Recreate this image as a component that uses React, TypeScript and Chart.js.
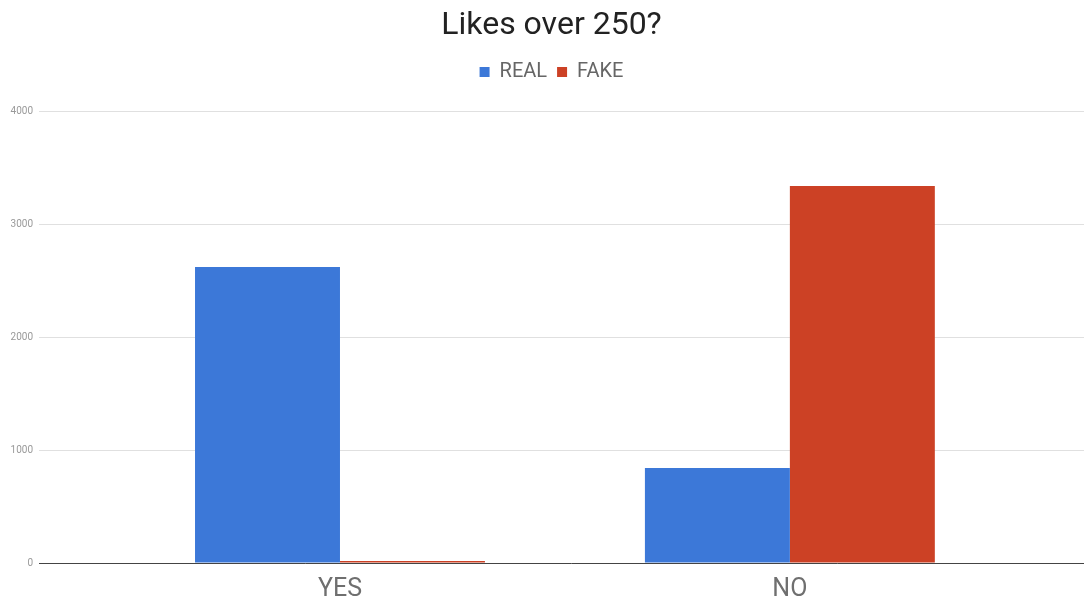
import React, { useEffect, useRef } from "react";
import { Chart, registerables } from "chart.js";

Chart.register(...registerables);

const categories = ["YES", "NO"];
const realValues = [2620, 841];
const fakeValues = [18, 3336];
const yTicks = [0, 1000, 2000, 3000, 4000];

const FONT = "Roboto";
const CANVAS_W = 1103;
const CANVAS_H = 601;

export default function App() {
  const canvasRef = useRef<HTMLCanvasElement | null>(null);

  useEffect(() => {
    const canvas = canvasRef.current;
    if (!canvas) return;
    const chart = new Chart(canvas, {
      type: "bar",
      data: {
        datasets: [
          {
            label: "REAL",
            data: categories.map((_, i) => ({ x: i, y: realValues[i] })),
            backgroundColor: "#3c78d8",
            borderWidth: 0,
            xAxisID: "x",
            yAxisID: "y",
          },
          {
            label: "FAKE",
            data: categories.map((_, i) => ({ x: i, y: fakeValues[i] })),
            backgroundColor: "#cc4125",
            borderWidth: 0,
            xAxisID: "x",
            yAxisID: "y",
          },
        ],
      },
      options: {
        responsive: false,
        animation: false,
        categoryPercentage: 0.6444,
        barPercentage: 1,
        layout: { padding: 0 },
        plugins: {
          title: {
            display: true,
            text: "Likes over 250?",
            color: "#222",
            font: { family: FONT, size: 32, weight: "normal" },
            padding: { top: 7, bottom: 6.6 },
          },
          legend: {
            display: true,
            labels: {
              color: "#666",
              font: { family: FONT, size: 20 },
              boxWidth: 10,
              boxHeight: 10,
              padding: 10,
            },
          },
          tooltip: { enabled: false },
        },
        scales: {
          x: {
            type: "linear",
            min: -0.669,
            max: 1.696,
            offset: false,
            grid: { display: false },
            border: { display: true, color: "#444", width: 1 },
            afterBuildTicks: (scale: any) => {
              scale.ticks = categories.map((_, i) => ({ value: i }));
            },
            afterFit: (scale: any) => {
              scale.height = 38;
            },
            ticks: {
              color: "#6f6f6f",
              font: { family: FONT, size: 25 },
              padding: 4,
              maxRotation: 0,
              callback: (v: any) => categories[Number(v)] ?? "",
            },
          },
          y: {
            type: "linear",
            min: 0,
            max: 4000,
            afterBuildTicks: (scale: any) => {
              scale.ticks = yTicks.map((v) => ({ value: v }));
            },
            afterFit: (scale: any) => {
              scale.width = 39;
            },
            grid: { color: "#e0e0e0", drawTicks: false },
            border: { display: false },
            ticks: {
              color: "#999",
              font: { family: FONT, size: 10 },
              padding: 6,
              callback: (v: any) => String(v),
            },
          },
          // empty band between the legend and the plot area
          gap: {
            type: "linear",
            position: "top",
            display: true,
            grid: { display: false },
            border: { display: false },
            ticks: { display: false },
            afterFit: (scale: any) => {
              scale.height = 19;
            },
          },
        },
      },
    });
    return () => chart.destroy();
  }, []);

  return (
    <div
      style={{
        position: "absolute",
        left: 0,
        top: 0,
        width: 1084,
        height: CANVAS_H,
        overflow: "hidden",
        background: "#fff",
      }}
    >
      <canvas ref={canvasRef} width={CANVAS_W} height={CANVAS_H} style={{ display: "block" }} />
    </div>
  );
}
